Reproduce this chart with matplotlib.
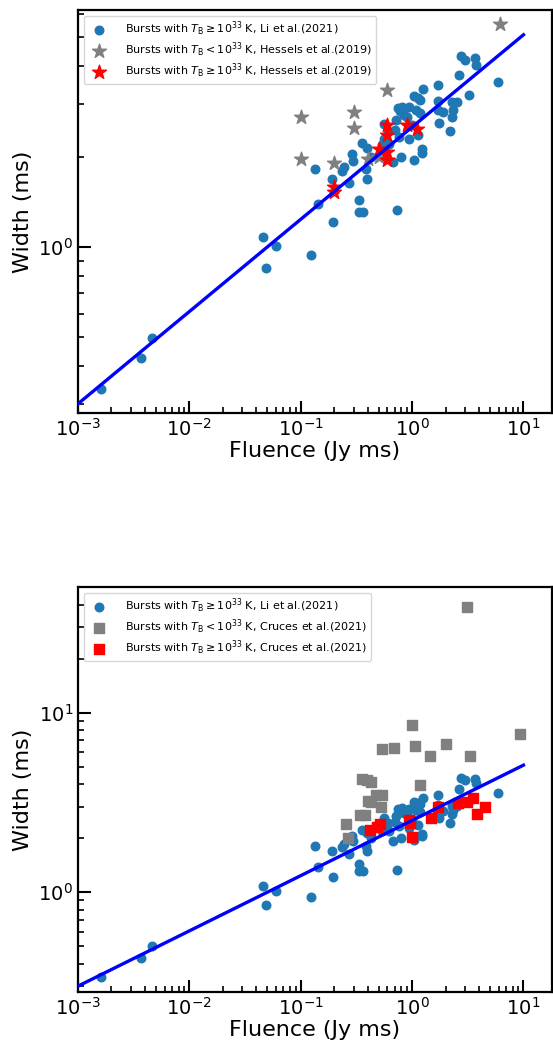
from matplotlib import pyplot as plt
from matplotlib.ticker import NullFormatter
import numpy as np

# Li et al. (2021) bursts, T_B >= 1e33 K (same in both panels)
li_fluence = [0.0016, 0.0037, 0.0046, 0.0454, 0.0489, 0.0604, 0.124, 0.135, 0.144,
              0.196, 0.190, 0.233, 0.245, 0.274, 0.289, 0.297, 0.332, 0.334, 0.365,
              0.354, 0.392, 0.387, 0.395, 0.431, 0.537, 0.565, 0.608, 0.668, 0.719,
              0.746, 0.775, 0.815, 0.803, 0.764, 0.736, 0.895, 0.944, 0.944, 1.04,
              1.05, 1.08, 1.14, 1.14, 1.18, 1.22, 1.23, 1.25, 1.18, 1.71, 1.71, 1.76,
              1.70, 1.90, 2.19, 2.27, 2.32, 2.27, 2.53, 2.64, 2.76, 2.99, 3.24, 3.64,
              3.78, 5.86, 0.56, 0.62, 0.70, 0.85, 1.00]
li_width = [0.336, 0.428, 0.499, 1.08, 0.849, 1.01, 0.94, 1.82, 1.39,
            1.21, 1.69, 1.79, 1.85, 1.63, 2.05, 1.94, 1.44, 1.31, 1.31,
            2.23, 2.14, 1.82, 1.69, 2.00, 2.19, 2.58, 2.44, 1.92, 2.66,
            2.90, 2.84, 2.94, 2.00, 2.33, 1.33, 2.71, 2.92, 2.29, 3.20,
            1.95, 2.86, 3.15, 2.36, 3.09, 2.06, 2.12, 3.36, 2.79, 3.46, 3.07, 2.60,
            2.86, 2.83, 2.44, 2.71, 2.86, 3.04, 3.04, 3.75, 4.34, 4.20, 3.21, 4.26,
            4.05, 3.56, 2.30, 2.20, 2.45, 2.75, 2.55]

# Hessels et al. (2019)
hes_low_fluence = [0.1, 0.1, 0.2, 0.3, 0.3, 0.4, 0.5, 0.6, 6.2]
hes_low_width = [2.71, 1.96, 1.91, 2.81, 2.49, 1.97, 1.99, 3.34, 5.54]
hes_high_fluence = [0.2, 0.2, 0.5, 0.6, 0.6, 0.6, 0.6, 0.9, 1.1]
hes_high_width = [1.59, 1.53, 2.12, 2.55, 2.36, 2.08, 1.95, 2.55, 2.47]

# Cruces et al. (2021)
cru_low_fluence = [3.08, 1.0, 9.23, 0.535, 0.69, 1.06, 2.01, 1.45, 3.32, 1.17,
                   0.354, 0.395, 0.424, 0.40, 0.424, 0.473, 0.535, 0.524, 0.339,
                   0.38, 0.255, 0.267]
cru_low_width = [38.8, 8.58, 7.58, 6.28, 6.39, 6.56, 6.70, 5.77, 5.77, 3.98,
                 4.28, 4.19, 4.10, 3.22, 3.16, 3.49, 3.49, 2.99, 2.70,
                 2.70, 2.39, 2.00]
cru_high_fluence = [0.415, 0.484, 0.51, 0.944, 0.95, 1.0, 1.48, 1.72, 2.57, 3.08,
                    3.54, 3.8, 4.56]
cru_high_width = [2.21, 2.31, 2.40, 2.51, 2.43, 2.04, 2.59, 2.98, 3.12, 3.20,
                  3.34, 2.72, 2.97]

# fitted power law, read at its two ends
fit_fluence = [1e-3, 10.0]
fit_width = [0.30, 5.1]

fig = plt.figure(figsize=(5.53, 10.41), dpi=100)
ax1 = fig.add_axes([0.141, 0.603, 0.857, 0.387])
ax2 = fig.add_axes([0.141, 0.047, 0.857, 0.389])

lab_li = r'Bursts with $T_{\mathrm{B}}\geq10^{33}$ K, Li et al.(2021)'

ax1.scatter(li_fluence, li_width, s=38, color='#1f77b4', label=lab_li, zorder=2)
ax1.scatter(hes_low_fluence, hes_low_width, s=110, marker='*', color='gray',
            label=r'Bursts with $T_{\mathrm{B}}<10^{33}$ K, Hessels et al.(2019)', zorder=3)
ax1.scatter(hes_high_fluence, hes_high_width, s=110, marker='*', color='red',
            label=r'Bursts with $T_{\mathrm{B}}\geq10^{33}$ K, Hessels et al.(2019)', zorder=4)
ax1.plot(fit_fluence, fit_width, color='blue', lw=2.4, zorder=5)
ax1.set_ylim(0.279, 6.15)

ax2.scatter(li_fluence, li_width, s=38, color='#1f77b4', label=lab_li, zorder=2)
ax2.scatter(cru_low_fluence, cru_low_width, s=48, marker='s', color='gray',
            label=r'Bursts with $T_{\mathrm{B}}<10^{33}$ K, Cruces et al.(2021)', zorder=3)
ax2.scatter(cru_high_fluence, cru_high_width, s=48, marker='s', color='red',
            label=r'Bursts with $T_{\mathrm{B}}\geq10^{33}$ K, Cruces et al.(2021)', zorder=4)
ax2.plot(fit_fluence, fit_width, color='blue', lw=2.4, zorder=5)
ax2.set_ylim(0.278, 50)

for ax in [ax1, ax2]:
    ax.set_xscale('log')
    ax.set_yscale('log')
    ax.set_xlim(1e-3, 18)
    ax.set_xlabel('Fluence (Jy ms)', fontsize=16, labelpad=1)
    ax.set_ylabel('Width (ms)', fontsize=16)
    ax.tick_params(which='major', direction='in', length=9, width=1.5, labelsize=14)
    ax.tick_params(which='minor', direction='in', length=4.5, width=1.2)
    ax.yaxis.set_minor_formatter(NullFormatter())
    ax.xaxis.set_minor_formatter(NullFormatter())
    for sp in ax.spines.values():
        sp.set_linewidth(1.6)
    ax.legend(loc='upper left', fontsize=8, scatterpoints=1, handletextpad=1.4,
              labelspacing=0.25, borderpad=0.35)

plt.savefig('out.png', dpi=100)
